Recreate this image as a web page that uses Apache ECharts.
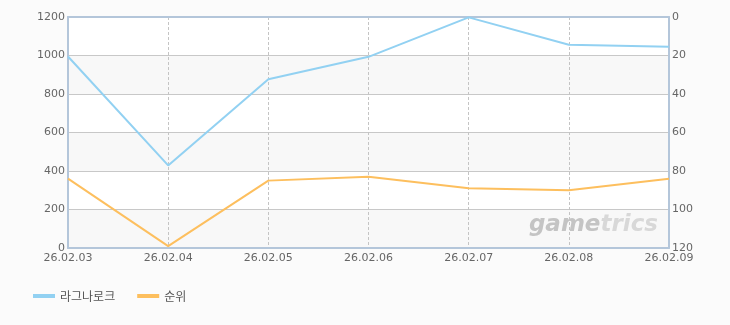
<!DOCTYPE html>
<html><head><meta charset="utf-8">
<script src="https://cdn.jsdelivr.net/npm/echarts@6/dist/echarts.min.js"></script>
<style>html,body{margin:0;padding:0;background:#fbfbfb}#c{width:730px;height:325px}</style>
</head><body><div id="c"></div>
<script>
var categories = ['26.02.03','26.02.04','26.02.05','26.02.06','26.02.07','26.02.08','26.02.09'];
var seriesNames = ['라그나로크','순위'];
var users = [995, 429, 877, 993, 1198, 1056, 1046];
var rank = [84, 119, 85, 83, 89, 90, 84];

function border() { return {show: true, onZero: false, lineStyle: {color: '#b4c6da', width: 2}}; }
var chart = echarts.init(document.getElementById('c'));
chart.setOption({
  backgroundColor: '#fbfbfb',
  animation: false,
  grid: {left: 68, right: 61, top: 17, bottom: 77},
  legend: {
    left: 28, bottom: 18, itemWidth: 22, itemHeight: 4, itemGap: 22,
    icon: 'rect',
    textStyle: {color: '#555', fontSize: 12, fontFamily: 'Noto Sans CJK KR'},
    data: seriesNames
  },
  xAxis: [{
    type: 'category', boundaryGap: false, data: categories, position: 'bottom',
    axisLine: border(), axisTick: {show: false},
    axisLabel: {color: '#666', fontSize: 11, margin: 5, fontFamily: 'DejaVu Sans'},
    splitLine: {show: true, lineStyle: {color: '#c4c4c4', type: [3, 2]}}
  }, {
    type: 'category', boundaryGap: false, data: categories, position: 'top',
    axisLine: border(), axisTick: {show: false}, axisLabel: {show: false}, splitLine: {show: false}
  }],
  yAxis: [{
    type: 'value', min: 0, max: 1200, interval: 200, position: 'left',
    axisLine: border(), axisTick: {show: false},
    axisLabel: {color: '#666', fontSize: 11, margin: 3, fontFamily: 'DejaVu Sans', formatter: function (v) { return '' + v; }},
    splitLine: {lineStyle: {color: '#c8c8c8'}},
    splitArea: {show: true, areaStyle: {color: ['#f8f8f8', '#ffffff']}}
  }, {
    type: 'value', min: 0, max: 120, interval: 20, inverse: true, position: 'right',
    axisLine: border(), axisTick: {show: false},
    axisLabel: {color: '#666', fontSize: 11, margin: 3, fontFamily: 'DejaVu Sans'},
    splitLine: {show: false}
  }],
  graphic: [{
    type: 'text', right: 72, bottom: 88, z: 1,
    style: {
      text: '{a|game}{b|trics}',
      rich: {
        a: {font: 'italic bold 23px "DejaVu Sans"', fill: '#c4c4c4'},
        b: {font: 'italic bold 23px "DejaVu Sans"', fill: '#d8d8d8'}
      }
    }
  }],
  series: [{
    name: seriesNames[0], type: 'line', data: users, yAxisIndex: 0, xAxisIndex: 0,
    showSymbol: false, symbol: 'none', color: '#92d1f2',
    lineStyle: {width: 2, color: '#92d1f2'}
  }, {
    name: seriesNames[1], type: 'line', data: rank, yAxisIndex: 1, xAxisIndex: 0,
    showSymbol: false, symbol: 'none', color: '#fdbf5e',
    lineStyle: {width: 2, color: '#fdbf5e'}
  }]
});
</script></body></html>
